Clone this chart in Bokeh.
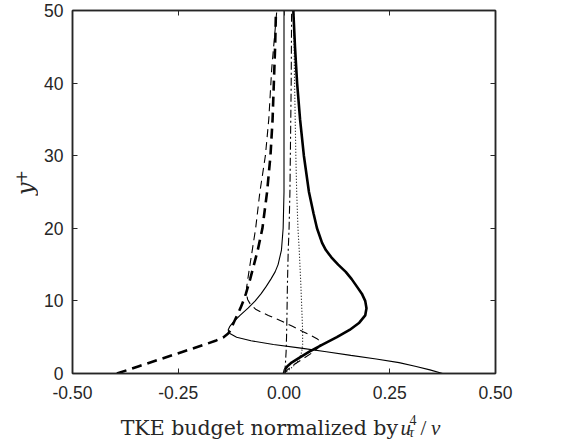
import math
from bokeh.plotting import figure
from bokeh.layouts import row, column
from bokeh.models import LinearAxis, FixedTicker, Label, Range1d
from bokeh.embed import file_html
from bokeh.resources import INLINE

# --- axis ticks -----------------------------------------------------------
x_ticks = [-0.5, -0.25, 0.0, 0.25, 0.5]
x_tick_labels = ["-0.50", "-0.25", "0.00", "0.25", "0.50"]
y_ticks = [0, 10, 20, 30, 40, 50]

# --- TKE budget terms (normalized by u_tau^4/nu) versus y+ -----------------
y_production = [0, 0.5, 1, 1.5, 2, 3, 4, 5, 6, 7, 8, 9, 10, 11, 12, 13, 14,
                15, 16, 17, 18, 20, 22, 25, 30, 35, 40, 45, 50]
production = [0, 0.002, 0.008, 0.018, 0.032, 0.06, 0.092, 0.125, 0.155, 0.178,
              0.192, 0.195, 0.192, 0.184, 0.172, 0.16, 0.146, 0.128, 0.112,
              0.099, 0.09, 0.078, 0.07, 0.059, 0.047, 0.038, 0.031, 0.026,
              0.022]

y_dissipation = [0, 1, 2, 3, 4, 4.5, 5, 5.5, 6, 7, 8, 9, 10, 11, 12, 13, 15,
                 17, 20, 25, 30, 35, 40, 45, 50]
dissipation = [-0.395, -0.343, -0.291, -0.239, -0.187, -0.162, -0.143, -0.132,
               -0.126, -0.119, -0.111, -0.103, -0.096, -0.090, -0.085, -0.080,
               -0.071, -0.062, -0.051, -0.040, -0.032, -0.027, -0.024, -0.021,
               -0.019]

y_viscous = [0, 0.5, 1, 1.5, 2, 2.5, 3, 3.5, 4, 4.5, 5, 5.5, 6, 6.5, 7, 8, 9,
             10, 11, 12, 13, 14, 15, 17, 20, 25, 30, 40, 50]
viscous_diffusion = [0.375, 0.345, 0.31, 0.272, 0.218, 0.158, 0.10, 0.04,
                     -0.025, -0.078, -0.112, -0.128, -0.132, -0.128, -0.121,
                     -0.104, -0.085, -0.068, -0.054, -0.042, -0.031, -0.021,
                     -0.014, -0.006, -0.002, 0.0, 0.0, 0.0, 0.0]

y_turbulent = [0, 0.5, 1.2, 2, 2.8, 3.5, 4.0, 4.4, 4.8, 5.3, 5.8, 6.5, 7.2, 8,
               8.8, 9.5, 10.2, 11.1, 12, 14, 17, 20, 25, 30, 35, 42, 50]
turbulent_transport = [0, 0.008, 0.023, 0.044, 0.065, 0.08, 0.086, 0.086,
                       0.078, 0.062, 0.044, 0.02, -0.005, -0.037, -0.066,
                       -0.079, -0.086, -0.089, -0.088, -0.083, -0.075, -0.067,
                       -0.057, -0.044, -0.036, -0.029, -0.017]

y_pressure = [0, 0.5, 1, 2, 3, 5, 8, 12, 17, 20, 25, 30, 40, 50]
pressure_transport = [0, 0.002, 0.003, 0.004, 0.005, 0.006, 0.007, 0.008,
                      0.010, 0.012, 0.014, 0.015, 0.017, 0.018]

y_convection = [0, 0.5, 1, 1.5, 2, 3, 4, 6, 9, 12, 17, 20, 25, 30, 40, 50]
convection = [0, 0.012, 0.022, 0.03, 0.036, 0.042, 0.044, 0.044, 0.042, 0.040,
              0.036, 0.033, 0.030, 0.028, 0.025, 0.023]

AX = "#262626"
TICK_FONT = "Liberation Sans"
TEXT_FONT = "DejaVu Serif"
MATH_FONT = "Liberation Serif"

W, H = 588, 441
LEFT_W = 38          # strip holding the y-axis title
MAIN_H = 408         # main plot height; the x-axis title strip sits below it

# --- main plot ------------------------------------------------------------
p = figure(width=W - LEFT_W, height=MAIN_H, output_backend="svg",
           toolbar_location=None, title=None,
           x_range=Range1d(-0.5, 0.5), y_range=Range1d(0, 50),
           min_border_left=72 - LEFT_W, min_border_right=93,
           min_border_top=10, min_border_bottom=35,
           background_fill_color="white", border_fill_color="white")
p.grid.visible = False
p.outline_line_color = AX
p.outline_line_width = 1.5

p.line(viscous_diffusion, y_viscous, line_color="black", line_width=1.1)
p.line(turbulent_transport, y_turbulent, line_color="black", line_width=1.1,
       line_dash="8 5")
p.line(pressure_transport, y_pressure, line_color="black", line_width=1.1,
       line_dash="8 3 2 3")
p.line(convection, y_convection, line_color="black", line_width=1.1,
       line_dash="1 2")
p.line(dissipation, y_dissipation, line_color="black", line_width=2.6,
       line_dash="10 6")
p.line(production, y_production, line_color="black", line_width=2.6)


def style_axis(ax, ticks, standoff, labels=None):
    ax.ticker = FixedTicker(ticks=ticks)
    ax.minor_tick_line_color = None
    ax.major_tick_in = 5
    ax.major_tick_out = 0
    ax.major_tick_line_color = AX
    ax.major_tick_line_width = 1
    ax.axis_line_color = AX
    ax.axis_line_width = 1.5
    ax.major_label_text_color = AX
    ax.major_label_text_font = TICK_FONT
    ax.major_label_text_font_size = "17.5px"
    ax.major_label_standoff = standoff
    if labels is not None:
        ax.major_label_overrides = dict(zip(ticks, labels))


style_axis(p.xaxis[0], x_ticks, 12, x_tick_labels)
style_axis(p.yaxis[0], y_ticks, 9)

# box with inward ticks on all four sides
top_axis = LinearAxis()
style_axis(top_axis, x_ticks, 0, [""] * len(x_ticks))
p.add_layout(top_axis, "above")
right_axis = LinearAxis()
style_axis(right_axis, y_ticks, 0, [""] * len(y_ticks))
p.add_layout(right_axis, "right")


def strip(width, height, flip_y):
    """Axis-less figure whose data coordinates are its own pixels."""
    y_range = Range1d(height, 0) if flip_y else Range1d(0, height)
    f = figure(width=width, height=height, output_backend="svg",
               toolbar_location=None, title=None,
               x_axis_type=None, y_axis_type=None,
               x_range=Range1d(0, width), y_range=y_range,
               min_border=0, min_border_left=0, min_border_right=0,
               min_border_top=0, min_border_bottom=0,
               background_fill_color="white", border_fill_color="white")
    f.outline_line_color = None
    f.grid.visible = False
    return f


# --- y-axis title: y^+ (y measured upward from the strip's bottom) ---------
ylab = strip(LEFT_W, MAIN_H, flip_y=False)
ylab.add_layout(Label(x=25, y=MAIN_H - 200.5, text="y", angle=math.pi / 2,
                      text_align="center", text_baseline="alphabetic",
                      text_font=TEXT_FONT, text_font_style="italic",
                      text_font_size="22px", text_color=AX))
ylab.add_layout(Label(x=20, y=MAIN_H - 187, text="+", angle=math.pi / 2,
                      text_align="center", text_baseline="middle",
                      text_font=TEXT_FONT, text_font_size="16px",
                      text_color=AX))

# --- x-axis title: TKE budget normalized by u_tau^4 / nu -------------------
# coordinates below are page pixels shifted up by the main plot height
xlab = strip(W, H - MAIN_H, flip_y=True)
base_y = 427 - MAIN_H
common = dict(text_color=AX, text_baseline="alphabetic", text_align="left")
xlab.add_layout(Label(x=397.5, y=base_y, text="TKE budget normalized by",
                      text_font=TEXT_FONT, text_font_size="20.5px",
                      **{**common, "text_align": "right"}))
xlab.add_layout(Label(x=400, y=base_y, text="u", text_font=MATH_FONT,
                      text_font_style="italic", text_font_size="21px",
                      **common))
xlab.add_layout(Label(x=409, y=base_y - 7.5, text="4", text_font=MATH_FONT,
                      text_font_size="14px", **common))
xlab.add_layout(Label(x=408.5, y=base_y + 5, text="τ", text_font=MATH_FONT,
                      text_font_style="italic", text_font_size="14px",
                      **common))
xlab.add_layout(Label(x=420, y=base_y, text="/", text_font=MATH_FONT,
                      text_font_size="21px", **common))
xlab.add_layout(Label(x=430.5, y=base_y, text="ν", text_font=MATH_FONT,
                      text_font_style="italic", text_font_size="21px",
                      **common))

layout = column(row(ylab, p), xlab)
open("out.html", "w").write(file_html(layout, INLINE))
